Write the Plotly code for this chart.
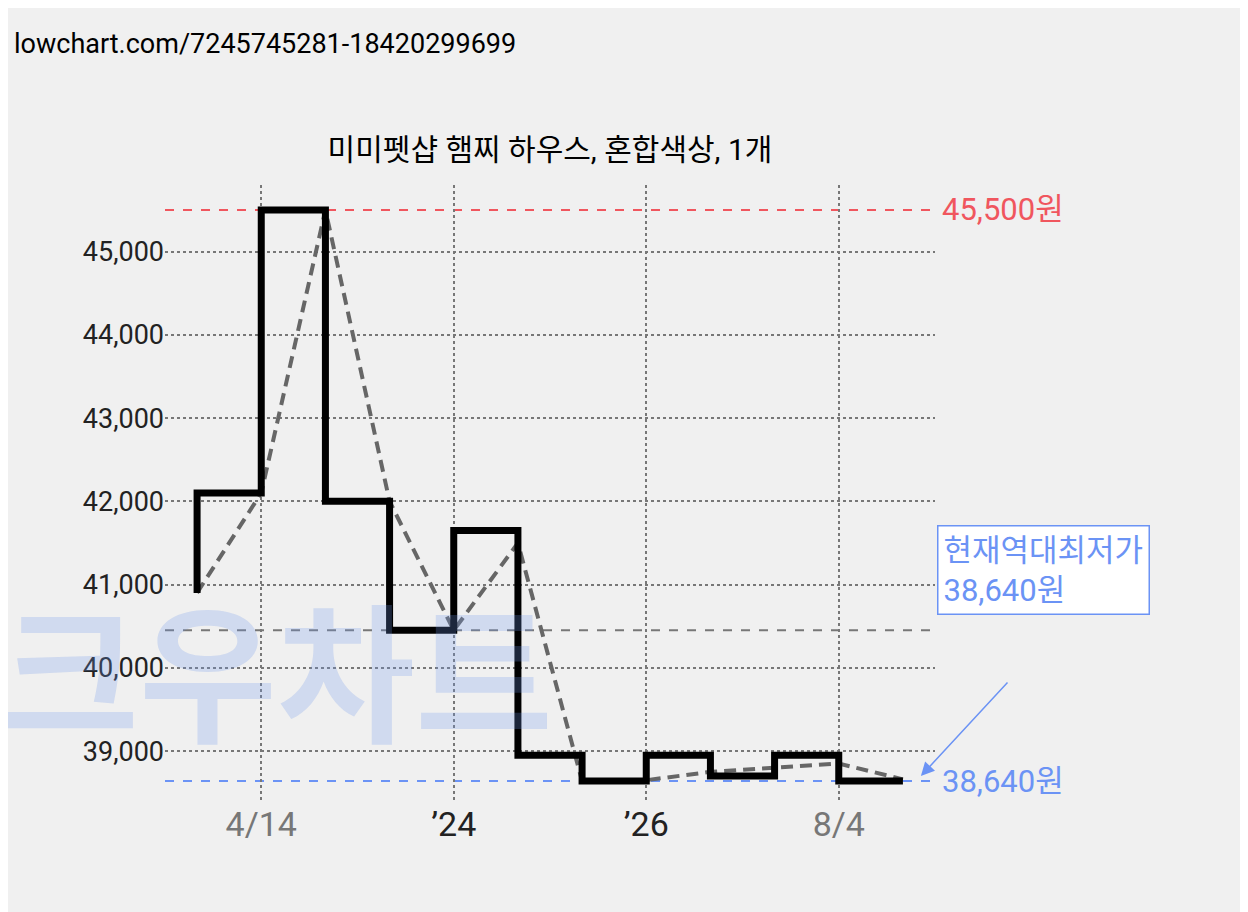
import plotly.graph_objects as go

step_x = [0, 0, 1, 2, 3, 4, 5, 6, 7, 8, 9, 10, 11]
step_y = [40900, 42100, 45500, 42000, 40450, 41650, 38950, 38640, 38950, 38700, 38950, 38640, 38640]
avg_x = [0, 1, 2, 3, 4, 5, 6, 7, 8, 9, 10, 11]
avg_y = [40900, 42100, 45500, 42000, 40450, 41500, 38640, 38650, 38750, 38800, 38850, 38660]
tick_vals = [1, 4, 7, 10]
tick_text = ["<span style='color:#777'>4/14</span>", "’24", "’26", "<span style='color:#777'>8/4</span>"]
y_ticks = [39000, 40000, 41000, 42000, 43000, 44000, 45000]
max_price, min_price, avg_price = 45500, 38640, 40450
title = "미미펫샵 햄찌 하우스, 혼합색상, 1개"

fig = go.Figure()
fig.add_trace(go.Scatter(x=avg_x, y=avg_y, mode="lines",
                         line=dict(color="#666", width=4, dash="12px,7px")))
fig.add_trace(go.Scatter(x=step_x, y=step_y, mode="lines", line_shape="hv",
                         line=dict(color="black", width=7)))
for v, c in [(max_price, "#f0565e"), (min_price, "#6b93f5"), (avg_price, "#777")]:
    fig.add_shape(type="line", xref="x", yref="y", x0=-0.5, x1=11.5, y0=v, y1=v,
                  line=dict(color=c, width=2, dash="dash"), layer="below")

fig.add_annotation(xref="paper", x=1.006, y=max_price, text=f"{max_price:,}원", showarrow=False,
                   xanchor="left", font=dict(size=31, color="#f0565e"))
fig.add_annotation(xref="paper", x=1.006, y=min_price, text=f"{min_price:,}원", showarrow=False,
                   xanchor="left", font=dict(size=31, color="#6b93f5"))
fig.add_annotation(xref="paper", x=1.002, y=40450, yshift=60, text=f"현재역대최저가<br>{min_price:,}원",
                   showarrow=False, xanchor="left", align="left",
                   font=dict(size=31, color="#6b93f5"), bgcolor="white",
                   bordercolor="#6b93f5", borderwidth=1.5, borderpad=5)
fig.add_annotation(x=11.28, y=38700, text="", showarrow=True, ax=88, ay=-95,
                   arrowcolor="#6b93f5", arrowwidth=1.5, arrowhead=2, arrowsize=1.8)
fig.add_annotation(xref="paper", yref="paper", x=-0.215, y=0.05, text="<b>크우차트</b>",
                   showarrow=False, xanchor="left", yanchor="bottom",
                   font=dict(size=150, color="rgba(110,150,235,0.25)"))
fig.add_annotation(xref="paper", yref="paper", x=-0.199, y=1.258, text="lowchart.com/7245745281-18420299699",
                   showarrow=False, xanchor="left", yanchor="top", font=dict(size=27, color="black"))

fig.update_layout(
    width=1240, height=904, paper_bgcolor="#f0f0f0", plot_bgcolor="#f0f0f0",
    margin=dict(l=157, r=313, t=177, b=111), showlegend=False,
    font=dict(family="Roboto, Noto Sans CJK KR", size=26, color="#222"),
    title=dict(text=title, xref="paper", x=0.5, xanchor="center", y=0.843, yanchor="middle",
               font=dict(size=30, color="black")),
    xaxis=dict(range=[-0.5, 11.5], tickvals=tick_vals, ticktext=tick_text, showgrid=True,
               gridcolor="#777", griddash="dot", gridwidth=2, zeroline=False,
               tickfont=dict(size=34), ticklen=0, ticks=""),
    yaxis=dict(range=[38400, 45800], tickvals=y_ticks, tickformat=",", showgrid=True,
               gridcolor="#777", griddash="dot", gridwidth=2, zeroline=False,
               tickfont=dict(size=27), ticks="", ticklen=0),
)
fig.write_html("out.html")
